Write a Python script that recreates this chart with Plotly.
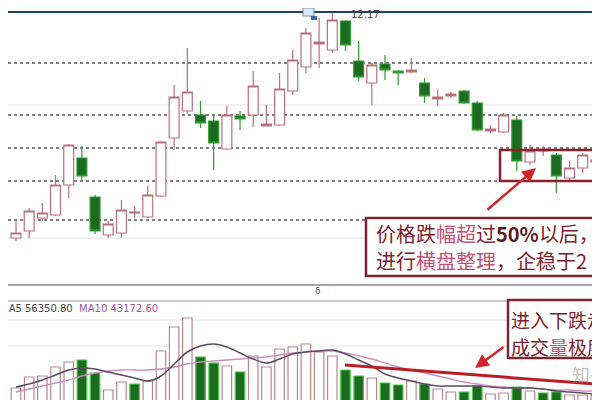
import plotly.graph_objects as go

# ---------------- data ----------------
idx = list(range(1, 47))
opens = [3.80, 4.08, 4.60, 4.72, 5.92, 7.00, 5.44, 3.92, 4.00, 4.80,
         4.64, 5.48, 7.80, 8.88, 8.72, 8.48, 7.36, 8.68, 8.72, 8.28,
         8.32, 9.68, 10.64, 11.56, 11.32, 12.48, 10.88, 10.00, 10.76, 10.48,
         10.44, 10.00, 9.36, 9.48, 9.68, 9.20, 8.08, 8.04, 8.52, 6.84,
         7.28, 7.12, 6.20, 6.60, 6.84, 6.80]
highs = [4.52, 5.00, 5.20, 6.32, 7.56, 7.48, 5.52, 4.48, 5.32, 5.08,
         5.88, 7.68, 9.92, 11.40, 9.28, 8.72, 9.08, 8.88, 10.48, 9.12,
         10.40, 11.32, 12.20, 12.60, 12.80, 12.52, 11.68, 10.80, 11.12, 10.52,
         11.00, 10.20, 9.72, 9.64, 9.72, 9.28, 8.32, 8.80, 8.68, 7.52,
         7.48, 7.20, 6.88, 7.20, 7.00, 6.90]
lows = [3.68, 3.80, 4.48, 4.68, 5.40, 6.12, 3.96, 3.80, 3.80, 4.60,
        4.60, 5.44, 7.32, 8.76, 8.20, 6.52, 7.32, 8.12, 8.24, 8.28,
        8.28, 9.52, 10.40, 10.60, 11.20, 11.28, 10.08, 9.12, 10.12, 9.92,
        10.40, 9.20, 9.08, 9.40, 9.16, 8.08, 8.00, 8.00, 6.48, 6.72,
        7.08, 5.60, 6.08, 6.40, 6.76, 6.60]
closes = [4.00, 4.88, 4.80, 5.92, 7.52, 6.28, 4.08, 4.36, 4.92, 4.84,
          5.52, 7.64, 9.44, 9.64, 8.40, 7.60, 8.72, 8.56, 9.88, 8.36,
          9.76, 10.92, 12.00, 11.64, 12.52, 11.52, 10.24, 10.72, 10.52, 10.40,
          10.52, 9.48, 9.44, 9.56, 9.20, 8.12, 8.16, 8.72, 6.88, 7.28,
          7.36, 6.28, 6.60, 7.12, 6.92, 6.64]

volume = [80000, 124000, 128000, 164000, 184000, 192000, 140000, 72000, 104000, 96000,
          108000, 228000, 324000, 360000, 204000, 180000, 168000, 144000, 208000, 164000,
          236000, 244000, 256000, 224000, 208000, 152000, 128000, 120000, 100000, 92000,
          108000, 96000, 76000, 64000, 64000, 88000, 56000, 60000, 84000, 68000,
          60000, 64000, 52000, 52000, 52000, 48000]
vol_up = [1, 1, 1, 1, 1, 0, 0, 1, 1, 0,
          1, 1, 1, 1, 0, 0, 1, 0, 1, 1,
          1, 1, 1, 1, 1, 0, 0, 1, 0, 0,
          1, 0, 1, 1, 0, 0, 1, 1, 0, 1,
          0, 0, 1, 1, 1, 0]
ma5 = [84000, 96000, 112000, 132000, 152000, 160000, 156000, 144000, 132000, 120000,
       108000, 128000, 176000, 224000, 248000, 256000, 244000, 220000, 196000, 180000,
       196000, 216000, 224000, 228000, 232000, 216000, 192000, 168000, 136000, 120000,
       108000, 96000, 88000, 88000, 88000, 88000, 84000, 80000, 80000, 80000,
       76000, 68000, 64000, 60000, 56000, 56000]
ma10 = [64000, 76000, 88000, 100000, 112000, 128000, 140000, 148000, 152000, 152000,
        152000, 156000, 164000, 176000, 184000, 188000, 192000, 196000, 200000, 204000,
        212000, 220000, 224000, 228000, 228000, 220000, 208000, 196000, 180000, 164000,
        152000, 140000, 128000, 116000, 104000, 96000, 88000, 84000, 80000, 80000,
        76000, 72000, 72000, 68000, 68000, 64000]
grid_levels = [10.80, 8.72, 7.40, 6.08, 4.52]
faint_levels = [9.12, 3.80]

# ---------------- figure ----------------
W, H = 600, 400
def px(x):
    return x / W
def py(y):
    return 1 - y / H

UP_LINE = "#b8707e"
DN_FILL = "#1d6b21"
DN_LINE = "#2f9a2f"

fig = go.Figure()
fig.add_trace(go.Candlestick(
    x=idx, open=opens, high=highs, low=lows, close=closes,
    increasing=dict(line=dict(color=UP_LINE, width=1.2), fillcolor="white"),
    decreasing=dict(line=dict(color=DN_LINE, width=1.2), fillcolor=DN_FILL),
    whiskerwidth=0, xaxis="x", yaxis="y", showlegend=False, hoverinfo="skip"))

bar_fill = ["white" if u else DN_FILL for u in vol_up]
bar_line = ["#b88890" if u else "#44cc44" for u in vol_up]
fig.add_trace(go.Bar(
    x=idx, y=volume, width=0.72,
    marker=dict(color=bar_fill, line=dict(color=bar_line, width=1.2)),
    xaxis="x2", yaxis="y2", showlegend=False, hoverinfo="skip"))
fig.add_trace(go.Scatter(x=idx, y=ma10, mode="lines", line=dict(color="#c98cc0", width=1.3, shape="spline"),
                         xaxis="x2", yaxis="y2", showlegend=False, hoverinfo="skip"))
fig.add_trace(go.Scatter(x=idx, y=ma5, mode="lines", line=dict(color="#5e4a5e", width=1.5, shape="spline"),
                         xaxis="x2", yaxis="y2", showlegend=False, hoverinfo="skip"))

xr = [0.393, 45.92]
shapes = []
for lv in grid_levels:
    shapes.append(dict(type="line", xref="paper", yref="y", x0=0, x1=1, y0=lv, y1=lv,
                       line=dict(color="#555555", width=1.5, dash="dot"), layer="below"))
for lv in faint_levels:
    shapes.append(dict(type="line", xref="paper", yref="y", x0=0, x1=1, y0=lv, y1=lv,
                       line=dict(color="#e2e2e2", width=1), layer="below"))
# panel borders
shapes += [
    dict(type="line", xref="paper", yref="paper", x0=0, x1=1, y0=py(4), y1=py(4), line=dict(color="#27415c", width=2)),
    dict(type="line", xref="paper", yref="paper", x0=0, x1=1, y0=py(277), y1=py(277), line=dict(color="#8a8a8a", width=1.5)),
    dict(type="line", xref="paper", yref="paper", x0=0, x1=1, y0=py(293), y1=py(293), line=dict(color="#9a9a9a", width=1.2)),
    dict(type="line", xref="paper", yref="paper", x0=0, x1=1, y0=py(312), y1=py(312), line=dict(color="#e4e4e4", width=1), layer="below"),
    dict(type="line", xref="paper", yref="paper", x0=0, x1=1, y0=py(338), y1=py(338), line=dict(color="#e4e4e4", width=1), layer="below"),
    # high-price tag
    dict(type="rect", xref="paper", yref="paper", x0=px(295), x1=px(306), y0=py(8), y1=py(0),
         fillcolor="#dbeaf7", line=dict(color="#6f8fb0", width=1)),
    dict(type="rect", xref="paper", yref="paper", x0=px(303), x1=px(309), y0=py(12), y1=py(8),
         fillcolor="#3d6ab0", line=dict(width=0)),
    # red box around consolidation
    dict(type="rect", xref="paper", yref="paper", x0=px(492), x1=px(606), y0=py(173), y1=py(142),
         line=dict(color="#8e1f2c", width=2.5)),
    # text boxes
    dict(type="rect", xref="paper", yref="paper", x0=px(358), x1=px(606), y0=py(268), y1=py(210),
         fillcolor="white", line=dict(color="#7a2530", width=2.5)),
    dict(type="rect", xref="paper", yref="paper", x0=px(500), x1=px(606), y0=py(350), y1=py(292),
         fillcolor="white", line=dict(color="#7a2530", width=2.5)),
    # red hand-drawn line in volume panel
    dict(type="line", xref="paper", yref="paper", x0=px(337), x1=px(600), y0=py(357), y1=py(377),
         line=dict(color="#b81e24", width=3)),
]

DARK = "#7a2232"
PINK = "#c4507a"
font_cjk = "Noto Sans CJK SC"
annotations = [
    dict(xref="paper", yref="paper", x=px(366), y=py(226), xanchor="left", yanchor="middle", showarrow=False,
         text=f"<span style='color:{DARK}'>价格跌</span><span style='color:{PINK}'>幅超</span>"
              f"<span style='color:{DARK}'>过</span><b style='color:#5a1a22'>50%</b>"
              f"<span style='color:{DARK}'>以后，</span>",
         font=dict(family=font_cjk, size=20)),
    dict(xref="paper", yref="paper", x=px(366), y=py(253), xanchor="left", yanchor="middle", showarrow=False,
         text=f"<span style='color:{DARK}'>进行</span><span style='color:{PINK}'>横盘整理</span>"
              f"<span style='color:{DARK}'>，企稳于2</span>",
         font=dict(family=font_cjk, size=20)),
    dict(xref="paper", yref="paper", x=px(501), y=py(311), xanchor="left", yanchor="middle", showarrow=False,
         text=f"<span style='color:{DARK}'>进入下跌走势</span>",
         font=dict(family=font_cjk, size=19)),
    dict(xref="paper", yref="paper", x=px(501), y=py(338), xanchor="left", yanchor="middle", showarrow=False,
         text=f"<span style='color:{DARK}'>成交</span><span style='color:{PINK}'>量</span>"
              f"<span style='color:{DARK}'>极度萎缩</span>",
         font=dict(family=font_cjk, size=19)),
    # arrows
    dict(xref="paper", yref="paper", x=px(528), y=py(160), ax=-50, ay=43, text="", showarrow=True,
         arrowhead=2, arrowsize=1.1, arrowwidth=2.5, arrowcolor="#d0282a"),
    dict(xref="paper", yref="paper", x=px(467), y=py(360), ax=30, ay=-22, text="", showarrow=True,
         arrowhead=2, arrowsize=1.1, arrowwidth=2.5, arrowcolor="#d0282a"),
    # labels
    dict(xref="paper", yref="paper", x=px(341), y=py(6), xanchor="left", yanchor="middle", showarrow=False,
         text="12.17", font=dict(family="DejaVu Sans", size=10, color="#444444")),
    dict(xref="paper", yref="paper", x=px(-10), y=py(300), xanchor="left", yanchor="middle", showarrow=False,
         text="MA5 56350.80  <span style='color:#9a5a9a'>MA10 43172.60</span>",
         font=dict(family="DejaVu Sans", size=10, color="#444444")),
    dict(xref="paper", yref="paper", x=px(310), y=py(283), xanchor="center", yanchor="middle", showarrow=False,
         text="δ", font=dict(family="DejaVu Sans", size=9, color="#555555")),
    dict(xref="paper", yref="paper", x=px(562), y=py(366), xanchor="left", yanchor="middle", showarrow=False,
         text="知乎", font=dict(family=font_cjk, size=18, color="rgba(140,140,140,0.55)")),
]

fig.update_layout(
    width=W, height=H, margin=dict(l=0, r=0, t=0, b=0),
    paper_bgcolor="white", plot_bgcolor="white",
    boxgap=0.25, boxgroupgap=0,
    xaxis=dict(range=xr, domain=[0, 1], anchor="y", showticklabels=False, showgrid=False,
               zeroline=False, showline=False, rangeslider=dict(visible=False), fixedrange=True),
    yaxis=dict(range=[1.92, 12.84], domain=[py(277), py(4)], showticklabels=False, showgrid=False,
               zeroline=False, showline=False),
    xaxis2=dict(range=xr, domain=[0, 1], anchor="y2", matches="x", showticklabels=False,
                showgrid=False, zeroline=False, showline=False),
    yaxis2=dict(range=[0, 428000], domain=[0, py(293)], showticklabels=False, showgrid=False,
                zeroline=False, showline=False),
    shapes=shapes, annotations=annotations,
)

fig.write_html("out.html")
